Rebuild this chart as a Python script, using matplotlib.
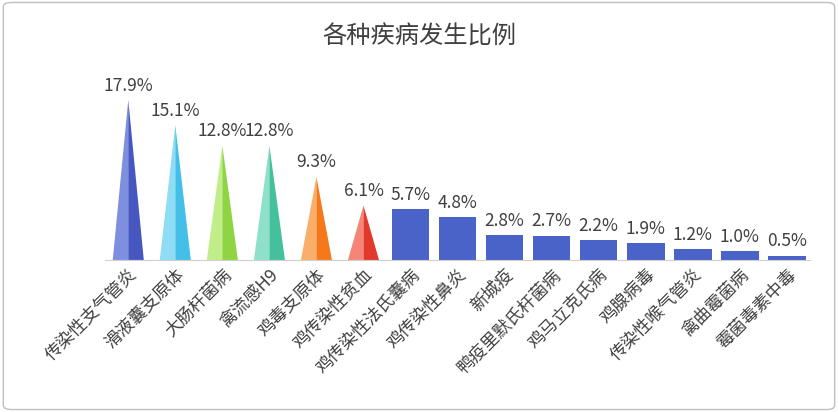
import matplotlib.pyplot as plt
import matplotlib.patches as mpatches

plt.rcParams['font.family'] = ['Noto Sans CJK SC', 'DejaVu Sans']

diseases = ['传染性支气管炎', '滑液囊支原体', '大肠杆菌病', '禽流感H9', '鸡毒支原体',
            '鸡传染性贫血', '鸡传染性法氏囊病', '鸡传染性鼻炎', '新城疫', '鸭疫里默氏杆菌病',
            '鸡马立克氏病', '鸡腺病毒', '传染性喉气管炎', '禽曲霉菌病', '霉菌毒素中毒']
rates = [17.9, 15.1, 12.8, 12.8, 9.3, 6.1, 5.7, 4.8, 2.8, 2.7, 2.2, 1.9, 1.2, 1.0, 0.5]
cone_colors = [('#7f8fe0', '#4658c0'), ('#8fdcf5', '#44bfe8'), ('#c2ee8a', '#8fd443'),
               ('#8de0c9', '#45c09c'), ('#fbae6a', '#f5791a'), ('#f58677', '#e23a2a')]
bar_color = '#4a63c8'

fig = plt.figure(figsize=(8.38, 4.12), dpi=100)
ax = fig.add_axes([0.125, 0.369, 0.842, 0.434])
fig.patches.append(mpatches.FancyBboxPatch((0.004, 0.006), 0.992, 0.988,
                   boxstyle='round,pad=0,rounding_size=0.01', transform=fig.transFigure,
                   fill=False, edgecolor='#bfbfbf', linewidth=1))

hw = 0.33
for i, v in enumerate(rates):
    if i < len(cone_colors):
        light, dark = cone_colors[i]
        ax.fill([i - hw, i, i], [0, v, 0], color=light, lw=0)
        ax.fill([i, i + hw, i], [0, 0, v], color=dark, lw=0)
    else:
        ax.bar(i, v, width=0.8, color=bar_color)
    ax.text(i, v + 0.6, f'{v:.1f}%', ha='center', va='bottom', fontsize=12.5, color='#404040')

ax.set_xlim(-0.5, len(rates) - 0.5)
ax.set_ylim(0, 20)
ax.set_xticks(range(len(rates)))
ax.set_xticklabels(diseases, rotation=45, ha='right', rotation_mode='anchor',
                   fontsize=12.5, color='#404040')
ax.tick_params(axis='x', length=0, pad=4)
ax.set_yticks([])
for s in ['top', 'right', 'left']:
    ax.spines[s].set_visible(False)
ax.spines['bottom'].set_color('#d0d0d0')
fig.text(0.5, 0.912, '各种疾病发生比例', ha='center', va='center', fontsize=17.5, color='#404040')

fig.savefig('out.png', dpi=100)
